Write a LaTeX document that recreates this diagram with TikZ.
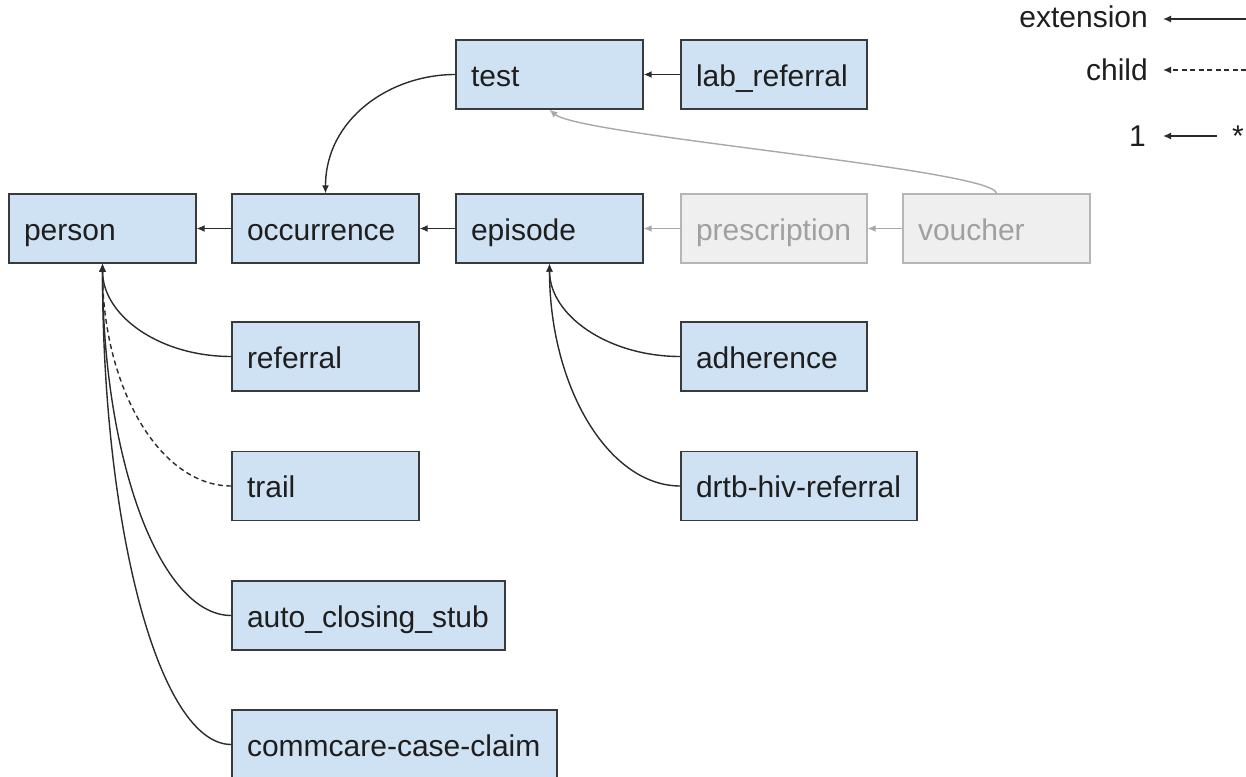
\documentclass[tikz,border=0pt]{standalone}
\usepackage{fontspec}
\setmainfont{Liberation Sans}
\usetikzlibrary{arrows.meta}

\definecolor{boxblue}{HTML}{CFE2F3}
\definecolor{boxline}{HTML}{3A3A3A}
\definecolor{ink}{HTML}{1E1E1E}
\definecolor{lineink}{HTML}{2B2B2B}
\definecolor{ghostfill}{HTML}{EFEFEF}
\definecolor{ghostline}{HTML}{B5B5B5}
\definecolor{ghosttext}{HTML}{A0A0A0}
\definecolor{ghostarrow}{HTML}{A8A8A8}

\begin{document}
\begin{tikzpicture}[x=1pt, y=-1pt,
  font=\fontsize{30}{36}\selectfont,
  % case type box; the argument is the width of its text column
  entity/.style={rectangle, draw=boxline, fill=boxblue, line width=1.3pt,
    text=ink, minimum height=69pt, inner xsep=15pt, inner ysep=0pt,
    align=left, text height=23pt, text depth=0pt, text width=#1},
  ghost/.style={entity=#1, draw=ghostline, fill=ghostfill, text=ghosttext},
  legendtext/.style={inner sep=0pt, text=ink},
  arr/.style={draw=lineink, line width=1.4pt, -{Latex[length=8pt,width=7pt]}},
  ghostarr/.style={arr, draw=ghostarrow},
  childarr/.style={arr, dash pattern=on 5pt off 3.5pt},
]
\clip (0,0) rectangle (1246,776);

% top row
\node[entity=157pt] (test) at (549.5,74.5) {test};
\node[entity=156pt] (lab) at (774,74.5) {lab\_referral};

% main row
\node[entity=157pt] (person) at (102.5,228.5) {person};
\node[entity=157pt] (occ) at (325.5,228.5) {occurrence};
\node[entity=157pt] (episode) at (549.5,228.5) {episode};
\node[ghost=156pt] (presc) at (774,228.5) {prescription};
\node[ghost=157pt] (voucher) at (996.5,228.5) {voucher};

% children of person
\node[entity=157pt] (referral) at (325.5,356.5) {referral};
\node[entity=157pt] (trail) at (325.5,486) {trail};
\node[entity=243pt] (stub) at (368.5,615.5) {auto\_closing\_stub};
\node[entity=295pt] (claim) at (394.5,744.5) {commcare-case-claim};

% children of episode
\node[entity=156pt] (adherence) at (774,356.5) {adherence};
\node[entity=206pt] (drtb) at (799,486) {drtb-hiv-referral};

% straight extensions
\draw[arr] (lab.west) -- (test.east);
\draw[arr] (occ.west) -- (person.east);
\draw[arr] (episode.west) -- (occ.east);
\draw[ghostarr] (presc.west) -- (episode.east);
\draw[ghostarr] (voucher.west) -- (presc.east);

% curved extensions
\draw[arr] (test.west) .. controls +(-66,0) and +(0,-74) .. (occ.north);
\draw[ghostarr] (voucher.north) .. controls +(-2,-24) and +(30.5,26) .. (test.south);

\draw[arr] (referral.west) .. controls +(-72,0) and +(0,52) .. (person.south);
\draw[childarr] (trail.west) .. controls +(-72,0) and +(0,123) .. (person.south);
\draw[arr] (stub.west) .. controls +(-72,0) and +(0,194) .. (person.south);
\draw[arr] (claim.west) .. controls +(-72,0) and +(0,266) .. (person.south);

\draw[arr] (adherence.west) .. controls +(-72,0) and +(0,52) .. (episode.south);
\draw[arr] (drtb.west) .. controls +(-72,0) and +(0,123) .. (episode.south);

% legend
\node[legendtext, anchor=base east] (lgext) at (1148,28) {extension};
\node[legendtext, anchor=base east] (lgchild) at (1148,80) {child};
\node[legendtext, anchor=base east] (lgone) at (1146,146) {1};
\node[legendtext, anchor=base] (lgmany) at (1238,146) {*};
\coordinate (lgextfrom) at (1246,19);
\coordinate (lgextto) at (1163,19);
\coordinate (lgchildfrom) at (1246,70);
\coordinate (lgchildto) at (1163,70);
\coordinate (lgonefrom) at (1217,136);
\coordinate (lgoneto) at (1163,136);
\draw[arr] (lgextfrom) -- (lgextto);
\draw[childarr] (lgchildfrom) -- (lgchildto);
\draw[arr] (lgonefrom) -- (lgoneto);
\end{tikzpicture}
\end{document}
